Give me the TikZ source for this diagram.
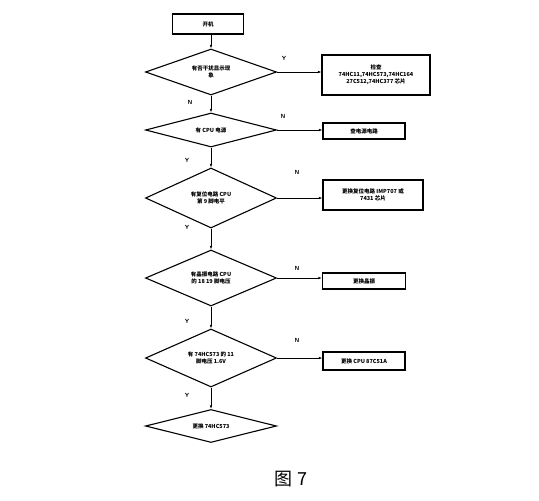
\documentclass[tikz,border=0pt]{standalone}
\usepackage{fontspec}
\newfontfamily\cjk{Noto Sans CJK SC}
\usetikzlibrary{shapes.geometric,arrows.meta}

\begin{document}
\begin{tikzpicture}[x=1pt,y=-1pt,
    box/.style={draw,line width=1.1pt,fill=white,align=center,inner sep=1pt,
        font=\cjk\bfseries\fontsize{5.5}{7}\selectfont},
    decision/.style={draw,diamond,aspect=2.6,line width=1.1pt,inner sep=0pt,
        minimum width=131pt,align=center,font=\cjk\bfseries\fontsize{5.5}{7}\selectfont},
    flow/.style={-{Latex[length=3.5pt,width=2.5pt]},line width=0.8pt},
    yn/.style={font=\sffamily\bfseries\fontsize{6}{6}\selectfont,inner sep=0pt}]

    \useasboundingbox (0,0) rectangle (539,501);

    % Partenza e decisioni
    \node[box,minimum width=71pt,minimum height=20pt] (start) at (208,24) {开机};
    \node[decision,minimum height=46pt] (d1) at (211,72) {有否干扰显示现\\象};
    \node[decision,minimum height=34pt] (d2) at (211,130) {有 CPU 电源};
    \node[decision,minimum height=60pt] (d3) at (211,198) {有复位电路 CPU\\第 9 脚电平};
    \node[decision,minimum height=56pt] (d4) at (211,278) {有晶振电路 CPU\\的 18 19 脚电压};
    \node[decision,minimum height=58pt] (d5) at (211,358) {有 74HC573 的 11\\脚电压 1.6V};
    \node[decision,minimum height=33pt] (d6) at (211,426) {更换 74HC573};

    % Azioni
    \node[box,minimum width=108pt,minimum height=40pt] (b1) at (376,75)
        {检查\\74HC11,74HC573,74HC164\\27C512,74HC377 芯片};
    \node[box,minimum width=82pt,minimum height=16pt] (b2) at (364,131) {查电源电路};
    \node[box,minimum width=100pt,minimum height=30pt] (b3) at (373,195)
        {更换复位电路 IMP707 或\\7431 芯片};
    \node[box,minimum width=83pt,minimum height=16pt] (b4) at (364,281) {更换晶振};
    \node[box,minimum width=82pt,minimum height=18pt] (b5) at (364,361) {更换 CPU 87C51A};

    % Collegamenti
    \draw[flow] (start.south -| d1.north) -- (d1.north);
    \foreach \a/\b in {d1/d2,d2/d3,d3/d4,d4/d5,d5/d6}
        \draw[flow] (\a) -- (\b);
    \foreach \i in {1,...,5}
        \draw[flow] (d\i.east) -- (d\i.east -| b\i.west);

    % Etichette
    \node[yn] (y1) at (284,58) {Y};
    \node[yn] (n1) at (190,102) {N};
    \foreach \i/\nx/\ny/\yy in {2/283/116/160,3/297/172/227,4/297/268/321,5/297/340/395} {
        \node[yn] (n\i) at (\nx,\ny) {N};
        \node[yn] (y\i) at (187,\yy) {Y};
    }

    % Didascalia
    \node[font=\cjk\fontsize{18}{20}\selectfont] (cap) at (291,479) {图 7};

\end{tikzpicture}
\end{document}
